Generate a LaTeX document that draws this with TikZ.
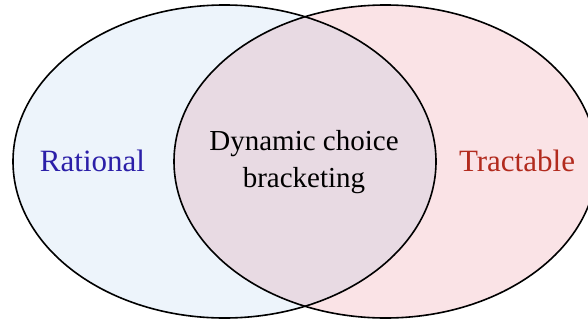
\documentclass[tikz,border=0pt]{standalone}
\usepackage{fontspec}
\setmainfont{Liberation Serif}
\definecolor{lfill}{HTML}{EDF4FB}
\definecolor{rfill}{HTML}{FAE3E6}
\definecolor{mfill}{HTML}{E8DAE3}
\definecolor{ltext}{HTML}{2B1FA8}
\definecolor{rtext}{HTML}{B22B1E}
\begin{document}
\begin{tikzpicture}[x=1pt,y=1pt,
  setline/.style={line width=1.6pt,black},
  lbl/.style={font=\fontsize{29}{37}\selectfont,align=center},
  side/.style={font=\fontsize{31}{37}\selectfont}]
\useasboundingbox (0,0) rectangle (588,322);
\clip (0,0) rectangle (588,322);
\fill[lfill] (224.5,160.5) ellipse [x radius=211.5, y radius=156.5];
\fill[rfill] (385.5,160.5) ellipse [x radius=211.5, y radius=156.5];
\begin{scope}
\clip (224.5,160.5) ellipse [x radius=211.5, y radius=156.5];
\fill[mfill] (385.5,160.5) ellipse [x radius=211.5, y radius=156.5];
\end{scope}
\draw[setline] (224.5,160.5) ellipse [x radius=211.5, y radius=156.5];
\draw[setline] (385.5,160.5) ellipse [x radius=211.5, y radius=156.5];
\node[side,text=ltext] (rat) at (92.5,161) {Rational};
\node[side,text=rtext] (tra) at (517,161) {Tractable};
\node[lbl,text=black] (dyn) at (304,159.5) {Dynamic choice\\bracketing};
\end{tikzpicture}
\end{document}
